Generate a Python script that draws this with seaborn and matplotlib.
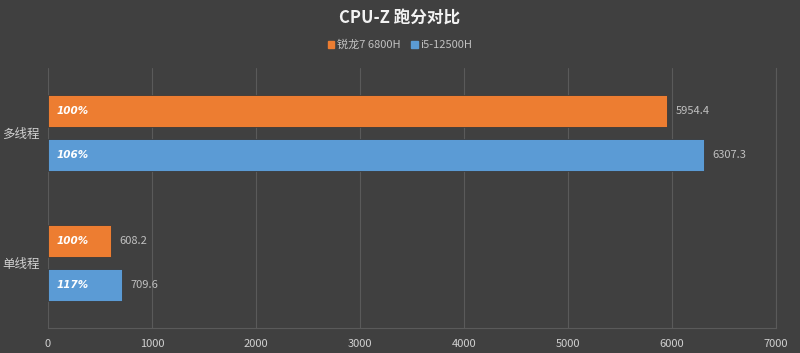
import matplotlib
matplotlib.use("Agg")
import matplotlib.pyplot as plt
import seaborn as sns
import pandas as pd

# data
categories = ["多线程", "单线程"]
series_names = ["锐龙7 6800H", "i5-12500H"]
amd_scores = [5954.4, 608.2]
intel_scores = [6307.3, 709.6]
amd_pct = ["100%", "100%"]
intel_pct = ["106%", "117%"]
x_ticks = [0, 1000, 2000, 3000, 4000, 5000, 6000, 7000]

colors = ["#ED7D31", "#5B9BD5"]
bg = "#404040"
grid_c = "#5a5a5a"
text_c = "#d0d0d0"

df = pd.DataFrame({
    "cat": categories * 2,
    "cpu": [series_names[0]] * 2 + [series_names[1]] * 2,
    "score": amd_scores + intel_scores,
    "pct": amd_pct + intel_pct,
})

sns.set_theme(style="dark")
plt.rcParams["font.family"] = ["Noto Sans CJK SC", "DejaVu Sans"]

fig = plt.figure(figsize=(8, 3.53), dpi=100, facecolor=bg)
ax = fig.add_axes([0.06, 0.071, 0.91, 0.736])
ax.set_facecolor(bg)

sns.barplot(data=df, x="score", y="cat", hue="cpu", orient="y", order=categories,
            hue_order=series_names, palette=colors, saturation=1, width=0.685, gap=0.28,
            edgecolor="#3a3a3a", linewidth=0.6, ax=ax, legend=False)

ax.set_xlim(0, 7000)
ax.set_xticks(x_ticks)
ax.set_xticklabels([str(t) for t in x_ticks])
ax.tick_params(axis="x", colors=text_c, labelsize=8, length=0, pad=8)
ax.tick_params(axis="y", colors=text_c, labelsize=9, length=0, pad=6)
ax.set_xlabel("")
ax.set_ylabel("")
ax.grid(axis="x", color=grid_c, linewidth=0.8)
ax.grid(axis="y", visible=False)
ax.set_axisbelow(True)
for s in ["top", "left"]:
    ax.spines[s].set_visible(False)
for s in ["bottom", "right"]:
    ax.spines[s].set_color(grid_c)
    ax.spines[s].set_linewidth(0.8)

pct_lists = [amd_pct, intel_pct]
for cont, pcts in zip(ax.containers, pct_lists):
    ax.bar_label(cont, labels=[f"{v.get_width():.1f}" for v in cont], padding=6,
                 color="#c0c0c0", fontsize=8)
    for bar, p in zip(cont, pcts):
        ax.annotate(p, xy=(0, bar.get_y() + bar.get_height() / 2), xytext=(6, 0),
                    textcoords="offset points", va="center", ha="left",
                    color="white", fontsize=7.5, fontstyle="italic", fontweight="bold",
                    family=["DejaVu Sans"])

fig.text(0.5, 0.947, "CPU-Z 跑分对比", ha="center", va="center",
         color="#f2f2f2", fontsize=12, fontweight="bold")

handles = [plt.Rectangle((0, 0), 1, 1, color=c) for c in colors]
fig.legend(handles, series_names, loc="center", bbox_to_anchor=(0.5, 0.873), ncol=2,
           frameon=False, fontsize=8, labelcolor="#c0c0c0", handlelength=0.6,
           handleheight=0.6, handletextpad=0.2, columnspacing=1.0)

fig.savefig("out.png", dpi=100, facecolor=bg)
